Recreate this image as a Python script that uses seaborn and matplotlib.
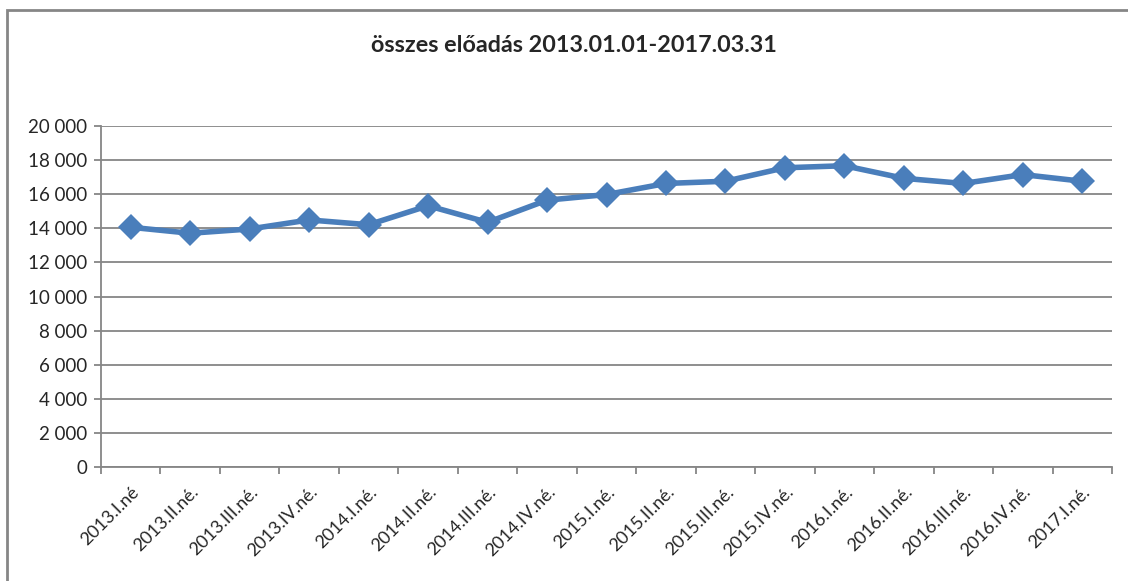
import matplotlib
matplotlib.use("Agg")
import matplotlib.pyplot as plt
import matplotlib.ticker as mticker
from matplotlib.patches import Rectangle
import pandas as pd
import seaborn as sns

# Data
quarters = [
    "2013.I.né", "2013.II.né.", "2013.III.né.", "2013.IV.né.",
    "2014.I.né.", "2014.II.né.", "2014.III.né.", "2014.IV.né.",
    "2015.I.né.", "2015.II.né.", "2015.III.né.", "2015.IV.né.",
    "2016.I.né.", "2016.II.né.", "2016.III.né.", "2016.IV.né.",
    "2017.I.né.",
]
performances = [
    14060, 13710, 13960, 14490, 14210, 15320, 14350, 15650,
    15980, 16630, 16760, 17550, 17670, 16930, 16630, 17150, 16760,
]
title = "összes előadás 2013.01.01-2017.03.31"

df = pd.DataFrame({"pos": range(len(quarters)), "value": performances})

sns.set_style("white")
plt.rcParams["font.family"] = ["Lato", "DejaVu Sans"]

fig = plt.figure(figsize=(11.28, 5.81), dpi=100)
ax = fig.add_axes([101 / 1128, 1 - 467 / 581, 1011 / 1128, 341 / 581])

sns.lineplot(data=df, x="pos", y="value", ax=ax, color="#4a7ebb",
             linewidth=4, marker="D", markersize=13, markeredgewidth=0)

ax.set_xlim(-0.5, len(quarters) - 0.5)
ax.set_ylim(0, 20000)
ax.yaxis.set_major_locator(mticker.MultipleLocator(2000))
ax.yaxis.set_major_formatter(
    mticker.FuncFormatter(lambda v, p: f"{int(v):,}".replace(",", " ")))
ax.grid(axis="y", color="#868686", linewidth=1.3)
ax.set_axisbelow(True)

# category labels at centres, tick marks between categories
ax.set_xticks(range(len(quarters)))
ax.set_xticklabels(quarters, rotation=45, ha="right", rotation_mode="anchor")
ax.set_xticks([i - 0.5 for i in range(len(quarters) + 1)], minor=True)
ax.tick_params(axis="x", which="major", length=0, pad=12, labelsize=13)
ax.tick_params(axis="x", which="minor", length=5, color="#868686", width=1.3,
               direction="out", bottom=True)
ax.tick_params(axis="y", length=5, color="#868686", width=1.3,
               direction="out", left=True, labelsize=13.5, pad=5)

for s in ["top", "right"]:
    ax.spines[s].set_visible(False)
for s in ["left", "bottom"]:
    ax.spines[s].set_color("#868686")
    ax.spines[s].set_linewidth(1.3)

ax.set_xlabel("")
ax.set_ylabel("")

fig.text(574 / 1128, 1 - 45 / 581, title, ha="center", va="center",
         fontsize=16.8, fontweight="bold")

# chart frame (runs off the right and bottom edge)
fig.patches.append(Rectangle((6.5 / 1128, -0.05), 1.2, 1 - 9.5 / 581 + 0.05,
                             transform=fig.transFigure, fill=False,
                             edgecolor="#868686", linewidth=2))

fig.savefig("out.png", dpi=100)
